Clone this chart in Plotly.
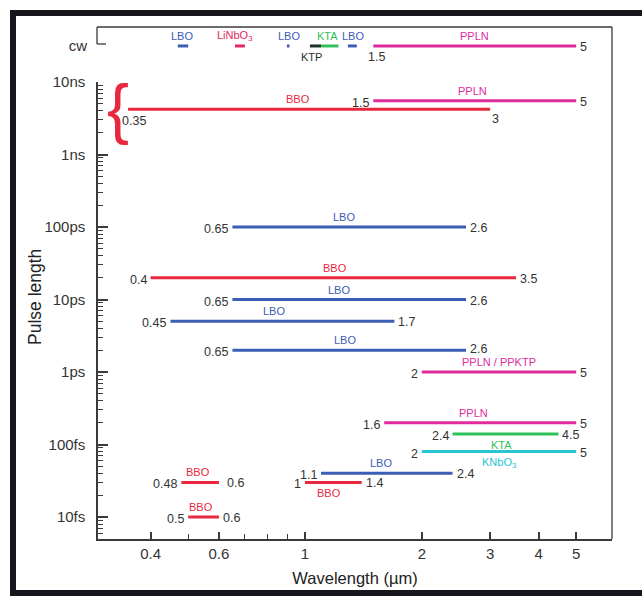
import numpy as np
import plotly.graph_objects as go

# ---------------- data ----------------
crystal = ["PPLN", "BBO", "LBO", "BBO", "LBO", "LBO", "LBO", "PPLN / PPKTP",
           "PPLN", "KTA", "KNbO3", "LBO", "BBO", "BBO", "BBO"]
wl_min = [1.5, 0.35, 0.65, 0.4, 0.65, 0.45, 0.65, 2, 1.6, 2.4, 2, 1.1, 1.0, 0.48, 0.5]
wl_max = [5, 3, 2.6, 3.5, 2.6, 1.7, 2.6, 5, 5, 4.5, 5, 2.4, 1.4, 0.6, 0.6]
pulse_s = [5.5e-9, 4.2e-9, 1e-10, 2e-11, 1e-11, 5e-12, 2e-12, 1e-12,
           2e-13, 1.4e-13, 8e-14, 4e-14, 3e-14, 3e-14, 1e-14]

cw_crystal = ["LBO", "LiNbO3", "LBO", "KTP", "KTA", "LBO", "PPLN"]
cw_min = [0.47, 0.66, 0.898, 1.03, 1.1, 1.29, 1.5]
cw_max = [0.50, 0.70, 0.912, 1.1, 1.22, 1.36, 5]

pulse_tickvals = [1e-14, 1e-13, 1e-12, 1e-11, 1e-10, 1e-9, 1e-8]
pulse_ticktext = ["10fs", "100fs", "1ps", "10ps", "100ps", "1ns", "10ns"]
wl_tickvals = [0.4, 0.6, 1, 2, 3, 4, 5]
wl_ticktext = ["0.4", "0.6", "1", "2", "3", "4", "5"]
wl_minor = [0.5, 0.7, 0.8, 0.9]

# ---------------- style ----------------
colors = {"LBO": "#3b5db3", "BBO": "#e8283e", "PPLN": "#e02a9e", "PPLN / PPKTP": "#e02a9e",
          "KTA": "#2fc25a", "KNbO3": "#27c4d4", "KTP": "#1e3326", "LiNbO3": "#e2285e"}
disp = {"KNbO3": "KNbO<sub>3</sub>", "LiNbO3": "LiNbO<sub>3</sub>"}
# label side / shift per main row
lab_side = ["above", "above", "above", "above", "above", "above", "above", "above",
            "above", "below", "below", "above", "below", "above", "above"]
lab_dx = [-2, -11, -5, 2, -10, -8, -4, 0, -7, -4, 0, -6, -4, -2, -3]
cw_side = ["above", "above", "above", "below", "above", "above", "above"]
cw_dx = [-1, -5, 1, -4, -2, 1, 0]

FONT = "Liberation Sans, Arial, sans-serif"
NUMCOL = "#333333"
LAB_SIZE = 11
NUM_SIZE = 12.5

L, R, T, B = 98, 612, 27, 539
W, H = 642, 596
main_top_px = 82
y_lo = -14 - (B - 517) / 72.5
main_dom_top = (B - main_top_px) / (B - T)


def fx(xp):
    return (xp - L) / (R - L)


def fy(yp):
    return (B - yp) / (B - T)


fig = go.Figure()
ann = []

lg = np.log10
for i, name in enumerate(crystal):
    c = colors[name]
    fig.add_trace(go.Scatter(x=[wl_min[i], wl_max[i]], y=[pulse_s[i], pulse_s[i]], mode="lines",
                             line=dict(color=c, width=3), showlegend=False, hoverinfo="skip"))
    xc = (lg(wl_min[i]) + lg(wl_max[i])) / 2
    yl = lg(pulse_s[i])
    ys = 10 if lab_side[i] == "above" else -11
    ann.append(dict(x=xc, y=yl, xref="x", yref="y", text=disp.get(name, name), showarrow=False,
                    font=dict(family=FONT, size=LAB_SIZE, color=c), xshift=lab_dx[i], yshift=ys))
    if i == 1:
        ann.append(dict(x=lg(wl_min[i]), y=yl, xref="x", yref="y", text=f"{wl_min[i]:g}",
                        showarrow=False, xanchor="left", xshift=-8, yshift=-12,
                        font=dict(family=FONT, size=NUM_SIZE, color=NUMCOL)))
        ann.append(dict(x=lg(wl_max[i]), y=yl, xref="x", yref="y", text=f"{wl_max[i]:g}",
                        showarrow=False, xanchor="left", xshift=0, yshift=-10,
                        font=dict(family=FONT, size=NUM_SIZE, color=NUMCOL)))
    else:
        ann.append(dict(x=lg(wl_min[i]), y=yl, xref="x", yref="y", text=f"{wl_min[i]:g}",
                        showarrow=False, xanchor="right", xshift=-2, yshift=-2,
                        font=dict(family=FONT, size=NUM_SIZE, color=NUMCOL)))
        ann.append(dict(x=lg(wl_max[i]), y=yl, xref="x", yref="y", text=f"{wl_max[i]:g}",
                        showarrow=False, xanchor="left", xshift=6 if i == 13 else 2,
                        yshift=1 if i == 6 else -1,
                        font=dict(family=FONT, size=NUM_SIZE, color=NUMCOL)))

# brace for the ns BBO range
ann.append(dict(x=lg(wl_min[1]), y=lg(pulse_s[1]), xref="x", yref="y", text="{", showarrow=False,
                xanchor="right", yanchor="middle", xshift=3, yshift=1,
                font=dict(family=FONT, size=66, color=colors["BBO"])))

# cw row
for i, name in enumerate(cw_crystal):
    c = colors[name]
    fig.add_trace(go.Scatter(x=[cw_min[i], cw_max[i]], y=[0, 0], yaxis="y2", mode="lines",
                             line=dict(color=c, width=3), showlegend=False, hoverinfo="skip"))
    xc = (lg(cw_min[i]) + lg(cw_max[i])) / 2
    ys = 10 if cw_side[i] == "above" else -11
    ann.append(dict(x=xc, y=0, xref="x", yref="y2", text=disp.get(name, name), showarrow=False,
                    font=dict(family=FONT, size=LAB_SIZE, color=c), xshift=cw_dx[i], yshift=ys))
ann.append(dict(x=lg(cw_min[-1]), y=0, xref="x", yref="y2", text=f"{cw_min[-1]:g}", showarrow=False,
                xanchor="center", xshift=3, yshift=-11, font=dict(family=FONT, size=NUM_SIZE, color=NUMCOL)))
ann.append(dict(x=lg(cw_max[-1]), y=0, xref="x", yref="y2", text=f"{cw_max[-1]:g}", showarrow=False,
                xanchor="left", xshift=2, yshift=-1, font=dict(family=FONT, size=NUM_SIZE, color=NUMCOL)))

# axis title (y)
ann.append(dict(x=fx(35), y=fy(297), xref="paper", yref="paper", text="Pulse length", textangle=-90,
                xanchor="center", yanchor="middle",
                showarrow=False, font=dict(family=FONT, size=17.5, color="#222")))

LC = "#3a3a3a"
shapes = [
    dict(type="line", xref="paper", yref="paper", x0=fx(97), x1=fx(R), y0=fy(T), y1=fy(T),
         line=dict(color=LC, width=1.3)),
    dict(type="line", xref="paper", yref="paper", x0=fx(R), x1=fx(R), y0=fy(T), y1=fy(B),
         line=dict(color=LC, width=1.3)),
    dict(type="line", xref="paper", yref="paper", x0=fx(97), x1=fx(97), y0=fy(T), y1=fy(44),
         line=dict(color=LC, width=1.3)),
    dict(type="line", xref="paper", yref="paper", x0=fx(97), x1=fx(106), y0=fy(44), y1=fy(44),
         line=dict(color=LC, width=1.3)),
    # outer dark frame
    dict(type="rect", xref="paper", yref="paper", x0=fx(10), x1=fx(16), y0=fy(10), y1=fy(596),
         fillcolor="#16171d", line=dict(width=0)),
    dict(type="rect", xref="paper", yref="paper", x0=fx(10), x1=fx(642), y0=fy(10), y1=fy(16),
         fillcolor="#16171d", line=dict(width=0)),
    dict(type="rect", xref="paper", yref="paper", x0=fx(10), x1=fx(642), y0=fy(590), y1=fy(596),
         fillcolor="#16171d", line=dict(width=0)),
]

x_lo = -(305 - L) / 388
x_hi = (R - 305) / 388

fig.update_layout(
    width=W, height=H, margin=dict(l=L, r=W - R, t=T, b=H - B, pad=0),
    paper_bgcolor="white", plot_bgcolor="white",
    font=dict(family=FONT, size=15, color="#222"),
    showlegend=False,
    annotations=ann, shapes=shapes,
    xaxis=dict(type="log", range=[x_lo, x_hi], showline=True, linecolor=LC, linewidth=1.5,
               showgrid=False, zeroline=False, ticks="inside", ticklen=7, tickwidth=1.5,
               tickcolor=LC, tickvals=wl_tickvals, ticktext=wl_ticktext,
               tickfont=dict(family=FONT, size=15, color="#333"),
               minor=dict(tickvals=wl_minor, ticks="inside", ticklen=5, tickwidth=1.3, tickcolor=LC,
                          showgrid=False),
               title=dict(text="Wavelength (µm)", font=dict(family=FONT, size=16.5, color="#222"),
                          standoff=12),
               automargin=False, anchor="y"),
    yaxis=dict(type="log", range=[y_lo, -8], domain=[0, main_dom_top], showline=True, linecolor=LC,
               linewidth=1.5, showgrid=False, zeroline=False, ticks="inside", ticklen=10, tickwidth=1.5,
               tickcolor=LC, tickvals=pulse_tickvals, ticktext=pulse_ticktext,
               tickfont=dict(family=FONT, size=15, color="#333"), ticklabelstandoff=8,
               minor=dict(tickvals=[k * 10.0 ** e for e in range(-15, -8) for k in range(2, 10)
                                    if 10 ** y_lo < k * 10.0 ** e < 1e-8],
                          ticks="inside", ticklen=5, tickwidth=1.1, tickcolor=LC, showgrid=False),
               automargin=False, anchor="x"),
    yaxis2=dict(range=[-0.655, 0.345], domain=[main_dom_top, 1], showline=False, showgrid=False,
                zeroline=False, tickvals=[0], ticktext=["cw"], ticks="", ticklabelstandoff=10,
                tickfont=dict(family=FONT, size=15, color="#333"), automargin=False, anchor="x",
                fixedrange=True),
)

fig.write_html("out.html")
